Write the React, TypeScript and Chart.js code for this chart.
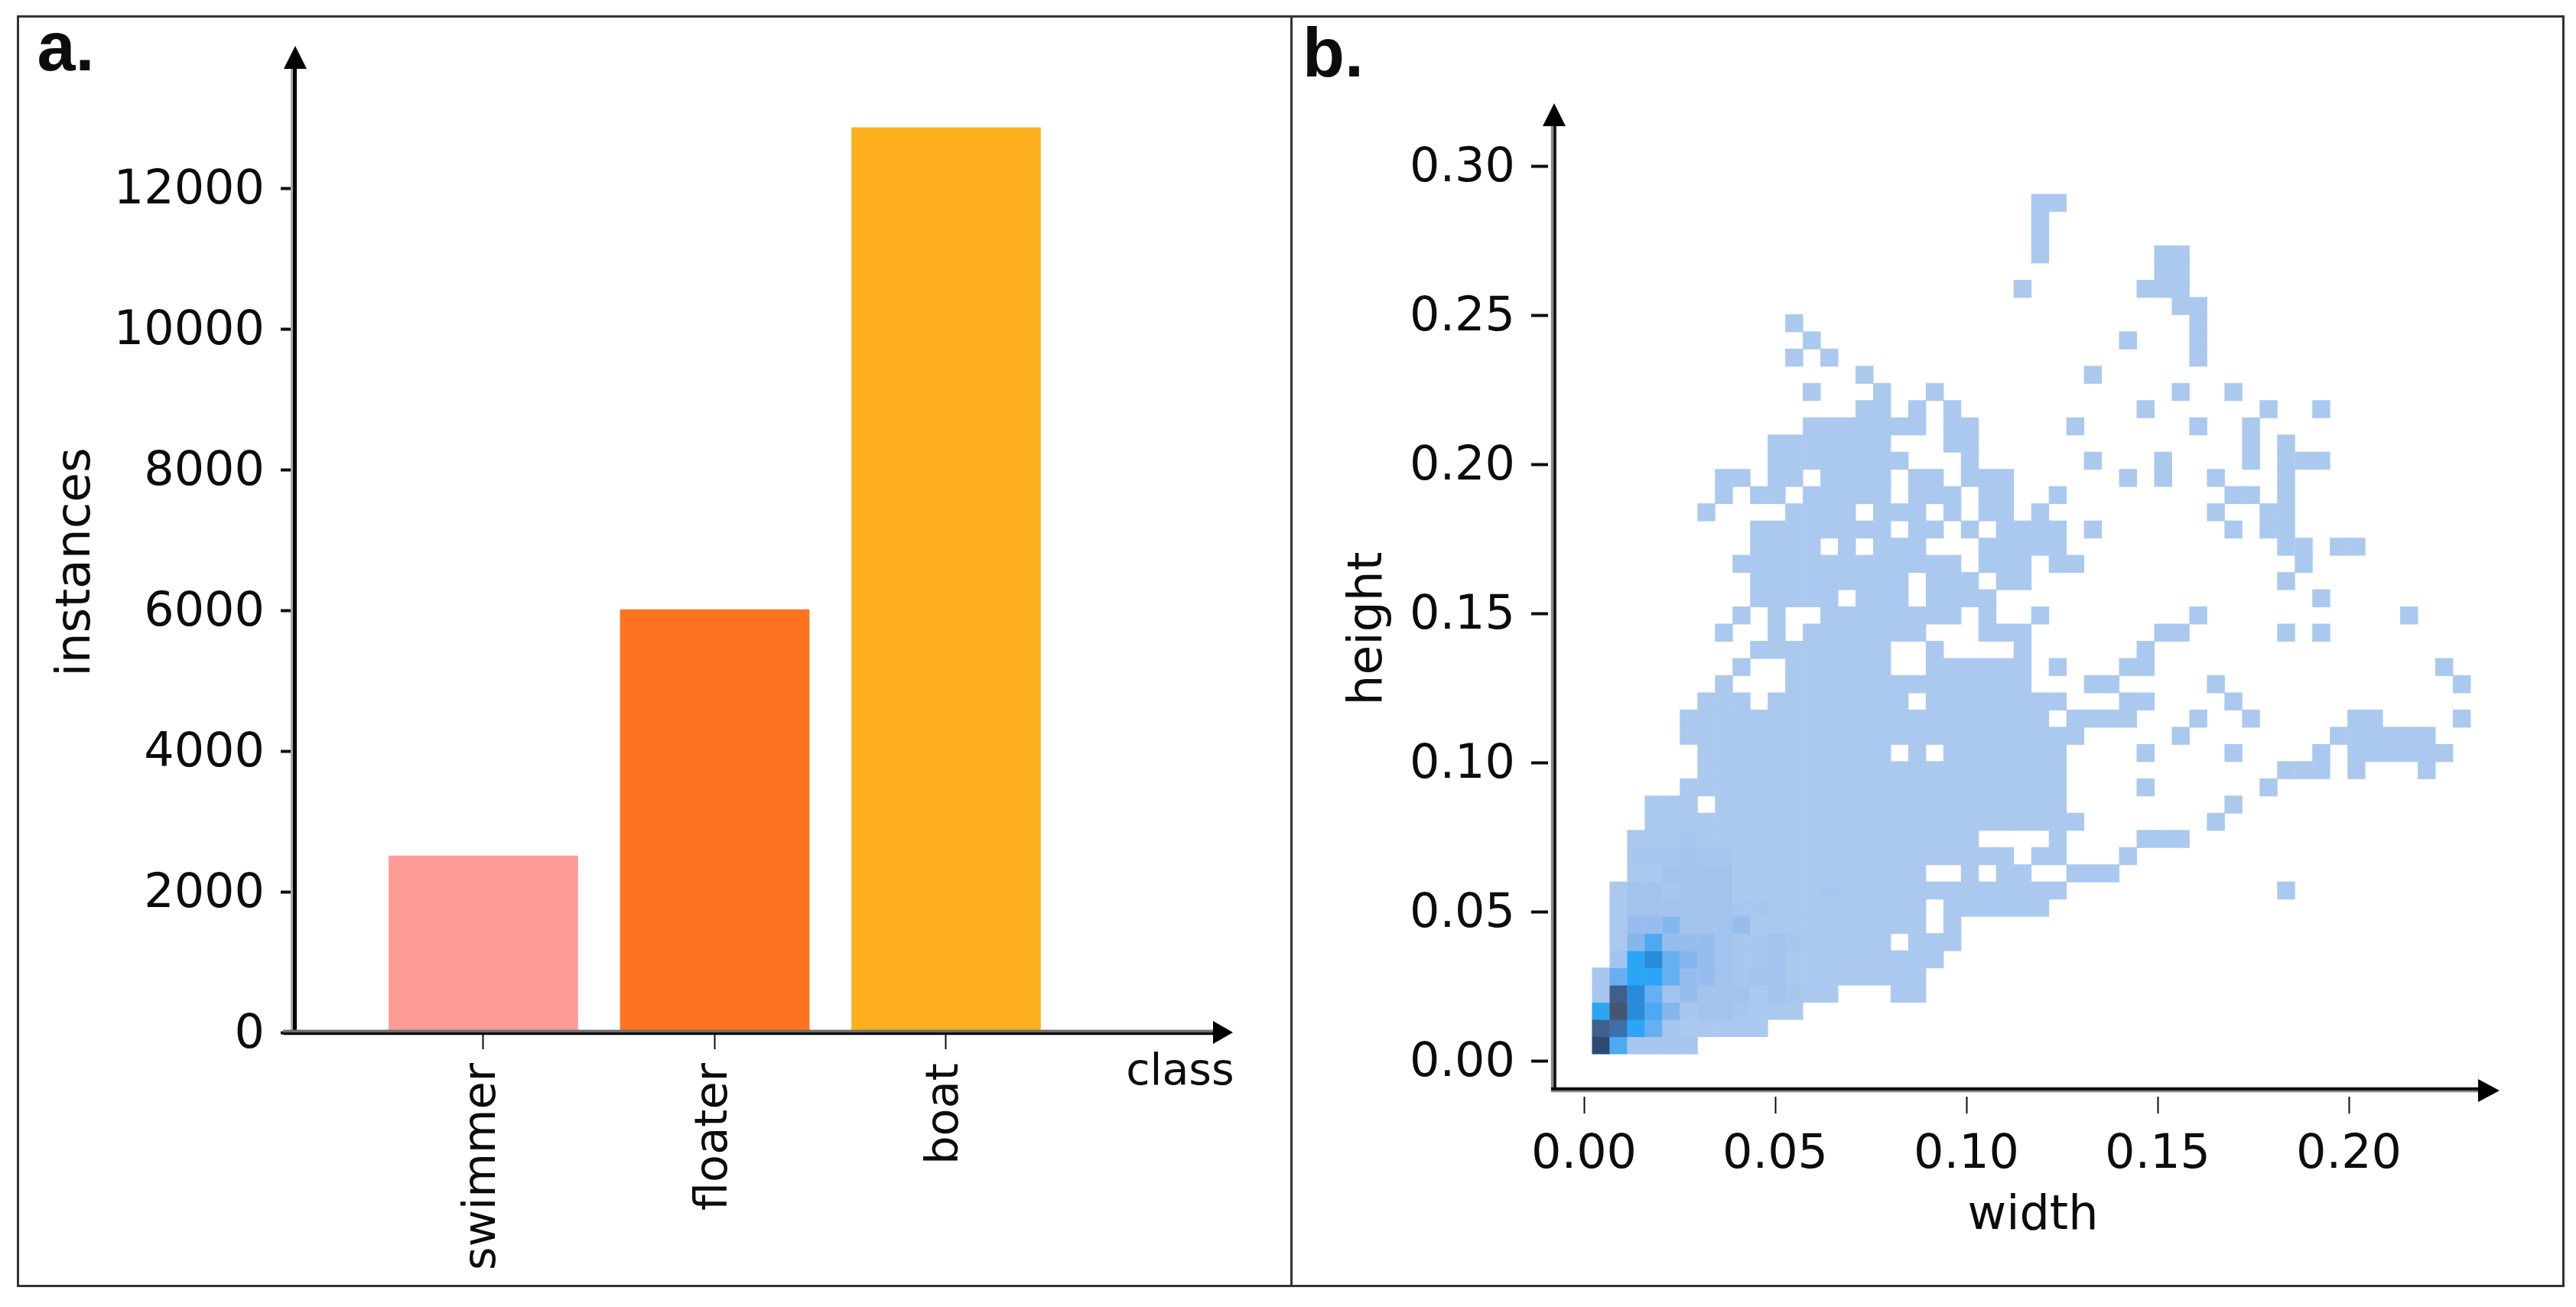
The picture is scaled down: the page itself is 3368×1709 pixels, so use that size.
import { useEffect, useRef } from 'react';
import Chart from 'chart.js/auto';

const FONT = "'DejaVu Sans'";
const INK = '#0c0c0c';

// panel a
const classNames = ['swimmer', 'floater', 'boat'];
const classPositions = [0, 1, 2];
const instanceCounts = [2510, 6010, 12860];
const classColors = ['#ff9b96', '#ff7220', '#ffb01e'];
const instanceTicks = [0, 2000, 4000, 6000, 8000, 10000, 12000];

// panel b, histogram bins seen in the picture
const widthBinStart = 0.00214;
const widthBinSize = 0.004594;
const heightBinStart = 0.00231;
const heightBinSize = 0.005764;
const widthTicks = [0, 0.05, 0.1, 0.15, 0.2];
const heightTicks = [0, 0.05, 0.1, 0.15, 0.2, 0.25, 0.3];

// occupied width bins per height bin, bottom row first
const occupiedBins = [
  '0-5',
  '0-9',
  '0-11',
  '0-13 17-18',
  '0-18',
  '1-19',
  '1-16 18-20',
  '1-18 20',
  '1-18 20-25',
  '1-26 39',
  '2-18 21 23-24 27-29',
  '2-23 25-26 30',
  '2-21 26 31-33',
  '3-27 35',
  '3-5 7-26 36',
  '5-26 31 38',
  '6-26 39-41 43 47',
  '6-16 18 20-26 31 36 41 43-48',
  '5-27 33 42-47',
  '5-25 27-30 34 37 43-44 49',
  '6-8 10-17 19-26 30-31 36',
  '7 11-24 28-29 35 49',
  '8 11-16 19-24 26 30-31 48',
  '9-16 19 24 31',
  '7 10 12-18 22-24 32-33 39 41',
  '8 10 13-20 22 25 34 46',
  '9-13 15-17 19-22 41',
  '9-17 19-21 23-24 39',
  '8-20 22-24 26-27 40',
  '9-12 14 16-18 22-26 39-40 42-43',
  '9-16 18-19 21 23-26 28 36 38-39',
  '6 11-14 16-18 20 22-23 25 35 38-39',
  '7 9-10 12-16 18-20 22-23 26 36-37 39',
  '7-8 10-11 13-16 18-19 21-23 30 32 35 39',
  '10-17 21 28 32 37 39-41',
  '10-16 20-21 37 39',
  '12-18 20-21 27 34 37',
  '15-16 18 20 31 38 41',
  '12 16 19 33 36',
  '15 28',
  '11 13 34',
  '12 30 34',
  '11 34',
  '33-34',
  '24 31-33',
  '32-33',
  '25 32-33',
  '25',
  '25',
  '25-26'
];

// density levels of the crowded corner, anything not listed is level 1
const denseLevels = [
  [13, 7, 2, 2, 2, 2],
  [11, 10, 8, 6, 2, 1, 1, 1, 1, 1],
  [8, 12, 9, 7, 5, 2, 3, 3, 2, 1, 1, 1],
  [2, 11, 9, 6, 3, 4, 3, 3, 3, 1, 3, 2, 1, 1],
  [2, 6, 8, 8, 6, 4, 4, 3, 2, 3, 3, 1, 1, 1],
  [0, 3, 8, 9, 6, 5, 4, 3, 2, 2, 3, 1, 1, 1],
  [0, 1, 5, 7, 4, 4, 4, 3, 2, 2, 3, 2, 1, 1],
  [0, 1, 4, 4, 5, 3, 3, 3, 4, 1, 1, 1, 1, 1],
  [0, 1, 3, 3, 3, 3, 3, 3, 2, 2, 1, 1, 1, 1],
  [0, 1, 3, 3, 2, 3, 3, 3, 1, 1, 1, 1, 1, 2],
  [0, 0, 1, 1, 3, 3, 3, 3, 1, 1, 1, 1, 1, 1],
  [0, 0, 2, 2, 2, 3, 2, 2, 1, 1, 1, 1, 1, 1],
  [0, 0, 1, 1, 1, 2, 1, 1, 1, 1, 1, 1, 1, 1]
];

const levelColors = [
  '#ffffff',
  '#abc9ef',
  '#a7c7ef',
  '#a1c3ee',
  '#97bdee',
  '#85b7ef',
  '#66aff1',
  '#4ea9f3',
  '#2da5f7',
  '#2a8cd8',
  '#3f6fa8',
  '#3f5f8c',
  '#45566e',
  '#2c4a75'
];

type Bin = { x: number; y: number };

function buildCells() {
  const points: Bin[] = [];
  const colors: string[] = [];
  occupiedBins.forEach((row, r) => {
    row.split(' ').forEach((run) => {
      const [from, to] = run.split('-').map(Number);
      for (let c = from; c <= (to ?? from); c++) {
        points.push({
          x: widthBinStart + (c + 0.5) * widthBinSize,
          y: heightBinStart + (r + 0.5) * heightBinSize
        });
        colors.push(levelColors[denseLevels[r]?.[c] ?? 1]);
      }
    });
  });
  return { points, colors };
}

type Line = [number, number, number, number, string, number];
type Label = { text: string; x: number; y: number; font: string; up?: boolean };

// axis lines, arrow heads and free labels sit where the scales do not put them
function decorations(lines: Line[], arrows: number[][], labels: Label[]) {
  return {
    id: 'decorations',
    afterDraw(chart: Chart) {
      const ctx = chart.ctx;
      ctx.save();
      lines.forEach(([x1, y1, x2, y2, color, w]) => {
        ctx.strokeStyle = color;
        ctx.lineWidth = w;
        ctx.beginPath();
        ctx.moveTo(x1, y1);
        ctx.lineTo(x2, y2);
        ctx.stroke();
      });
      ctx.fillStyle = '#000';
      arrows.forEach(([a, b, c, d, e, f]) => {
        ctx.beginPath();
        ctx.moveTo(a, b);
        ctx.lineTo(c, d);
        ctx.lineTo(e, f);
        ctx.closePath();
        ctx.fill();
      });
      ctx.fillStyle = INK;
      ctx.textAlign = 'center';
      ctx.textBaseline = 'alphabetic';
      labels.forEach((l) => {
        ctx.save();
        ctx.font = l.font;
        ctx.translate(l.x, l.y);
        if (l.up) ctx.rotate(-Math.PI / 2);
        ctx.fillText(l.text, 0, 0);
        ctx.restore();
      });
      ctx.restore();
    }
  };
}

const PANEL_H = 1709;
const A_W = 1688;
const B_W = 1680;

export default function App() {
  const barRef = useRef<HTMLCanvasElement | null>(null);
  const heatRef = useRef<HTMLCanvasElement | null>(null);

  useEffect(() => {
    const bar = new Chart(barRef.current!, {
      type: 'bar',
      data: {
        datasets: [
          {
            data: classPositions.map((x, i) => ({ x, y: instanceCounts[i] })),
            backgroundColor: classColors,
            barThickness: 247,
            borderWidth: 0
          }
        ]
      },
      options: {
        responsive: false,
        animation: false,
        devicePixelRatio: 1,
        layout: { padding: { top: 60, right: A_W - 1612, left: 0, bottom: 0 } },
        plugins: { legend: { display: false }, tooltip: { enabled: false } },
        scales: {
          x: {
            type: 'linear',
            offset: false,
            min: -0.8165,
            max: 3.2397,
            afterBuildTicks: (axis) => {
              axis.ticks = classPositions.map((value) => ({ value }));
            },
            afterFit: (axis) => {
              axis.height = PANEL_H - 1350;
            },
            border: { display: false },
            grid: { offset: false, drawOnChartArea: false, tickLength: 22, tickColor: INK, tickWidth: 2 },
            ticks: {
              autoSkip: false,
              minRotation: 90,
              maxRotation: 90,
              padding: 18,
              color: INK,
              font: { family: FONT, size: 59 },
              callback: (v) => classNames[Number(v)]
            }
          },
          y: {
            min: 0,
            max: 14022,
            afterBuildTicks: (axis) => {
              axis.ticks = instanceTicks.map((value) => ({ value }));
            },
            afterFit: (axis) => {
              axis.width = 385;
            },
            border: { display: false },
            grid: { drawOnChartArea: false, tickLength: 18, tickColor: INK, tickWidth: 4 },
            ticks: {
              autoSkip: false,
              padding: 21,
              labelOffset: 4,
              color: INK,
              font: { family: FONT, size: 62 },
              callback: (v) => String(v)
            }
          }
        }
      },
      plugins: [
        decorations(
          [
            [381.5, 1352, 381.5, 85, '#a8a8a8', 3],
            [385.5, 1352, 385.5, 85, '#000', 5],
            [370, 1348.3, 1590, 1348.3, '#6e6e6e', 3.5],
            [370, 1351.6, 1590, 1351.6, '#0c0c0c', 3.4]
          ],
          [
            [386, 60, 371, 90, 401, 90],
            [1612, 1350, 1586, 1335, 1586, 1365]
          ],
          [
            { text: 'a.', x: 86, y: 92, font: `bold 90px 'Liberation Sans'` },
            { text: 'class', x: 1543, y: 1418, font: `57px ${FONT}` },
            { text: 'instances', x: 117, y: 735, font: `63px ${FONT}`, up: true }
          ]
        )
      ]
    });

    const { points, colors } = buildCells();
    const ox = 1688;
    const heat = new Chart(heatRef.current!, {
      type: 'scatter',
      data: {
        datasets: [
          {
            data: points,
            pointStyle: 'rect',
            pointRadius: 16.6,
            pointBorderWidth: 0,
            pointBackgroundColor: colors
          }
        ]
      },
      options: {
        responsive: false,
        animation: false,
        devicePixelRatio: 1,
        layout: { padding: { top: 135, right: 3368 - 3268, left: 0, bottom: 0 } },
        plugins: { legend: { display: false }, tooltip: { enabled: false } },
        scales: {
          x: {
            type: 'linear',
            min: -0.0094,
            max: 0.2394,
            afterBuildTicks: (axis) => {
              axis.ticks = widthTicks.map((value) => ({ value }));
            },
            afterFit: (axis) => {
              axis.height = PANEL_H - 1434;
            },
            border: { display: false },
            grid: { drawOnChartArea: false, tickLength: 22, tickColor: INK, tickWidth: 2 },
            ticks: {
              autoSkip: false,
              maxRotation: 0,
              padding: 18,
              color: INK,
              font: { family: FONT, size: 62 },
              callback: (v) => Number(v).toFixed(2)
            }
          },
          y: {
            type: 'linear',
            min: -0.01205,
            max: 0.32103,
            afterBuildTicks: (axis) => {
              axis.ticks = heightTicks.map((value) => ({ value }));
            },
            afterFit: (axis) => {
              axis.width = 2024 - ox;
            },
            border: { display: false },
            grid: { drawOnChartArea: false, tickLength: 22, tickColor: INK, tickWidth: 4 },
            ticks: {
              autoSkip: false,
              padding: 21,
              labelOffset: 4,
              color: INK,
              font: { family: FONT, size: 62 },
              callback: (v) => Number(v).toFixed(2)
            }
          }
        }
      },
      plugins: [
        decorations(
          [
            [2029.5 - ox, 1428, 2029.5 - ox, 160, '#8a8a8a', 3.4],
            [2033 - ox, 1428, 2033 - ox, 160, '#0c0c0c', 3.6],
            [2028 - ox, 1423.8, 3245 - ox, 1423.8, '#0c0c0c', 4.2],
            [2028 - ox, 1427, 3245 - ox, 1427, '#8a8a8a', 2.4]
          ],
          [
            [2032 - ox, 135, 2017 - ox, 165, 2047 - ox, 165],
            [3268 - ox, 1426, 3240 - ox, 1411, 3240 - ox, 1441]
          ],
          [
            { text: 'b.', x: 1743 - ox, y: 100, font: `bold 90px 'Liberation Sans'` },
            { text: 'width', x: 2658 - ox, y: 1607, font: `62px ${FONT}` },
            { text: 'height', x: 1806 - ox, y: 822, font: `63px ${FONT}`, up: true }
          ]
        )
      ]
    });

    return () => {
      bar.destroy();
      heat.destroy();
    };
  }, []);

  return (
    <div style={{ position: 'fixed', left: 0, top: 0, width: 3368, height: 1709, background: '#fff', overflow: 'hidden' }}>
      <canvas ref={barRef} width={A_W} height={PANEL_H} style={{ position: 'absolute', left: 0, top: 0 }}></canvas>
      <canvas ref={heatRef} width={B_W} height={PANEL_H} style={{ position: 'absolute', left: 1688, top: 0 }}></canvas>
      <div
        style={{
          position: 'absolute',
          left: 22,
          top: 20,
          width: 3331,
          height: 1663,
          boxSizing: 'border-box',
          border: '3px solid #333'
        }}
      ></div>
      <div style={{ position: 'absolute', left: 1687, top: 20, width: 3, height: 1663, background: '#333' }}></div>
    </div>
  );
}
